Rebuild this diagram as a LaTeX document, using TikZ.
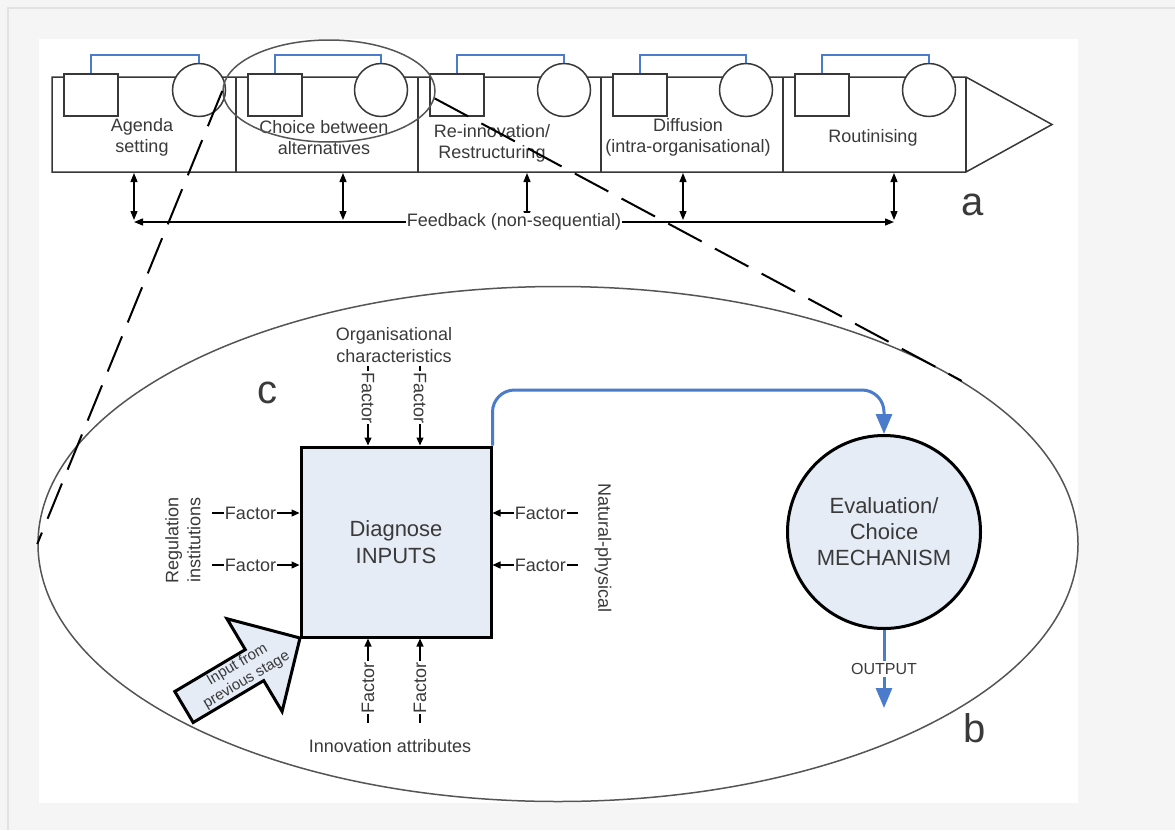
\documentclass[tikz,border=0pt]{standalone}
\usepackage{fontspec}
\setmainfont{Liberation Sans}
\usetikzlibrary{arrows.meta,shapes.geometric,calc}
\definecolor{bgc}{HTML}{F5F5F5}
\definecolor{framec}{HTML}{E2E2E2}
\definecolor{txt}{HTML}{3A3A3A}
\definecolor{linec}{HTML}{383838}
\definecolor{bluec}{HTML}{4A7CCB}
\definecolor{fillb}{HTML}{E5ECF6}
\definecolor{ellc}{HTML}{555555}
\begin{document}
\begin{tikzpicture}[x=1pt,y=-1pt,
  every node/.style={text=txt},
  strip/.style={draw=linec,line width=1.5pt},
  sqbox/.style={draw=linec,line width=1.5pt,fill=white,minimum width=54pt,minimum height=42pt,inner sep=0pt},
  cibox/.style={draw=linec,line width=1.5pt,fill=white,circle,minimum size=53pt,inner sep=0pt},
  bracket/.style={draw=bluec,line width=1.5pt},
  sectxt/.style={font=\fontsize{18}{21}\selectfont,align=center,inner sep=0pt},
  fbarr/.style={draw=black,line width=1.3pt,{Triangle[length=9pt,width=7pt]}-{Triangle[length=9pt,width=7pt]}},
  dashln/.style={draw=black,line width=2pt,dash pattern=on 38pt off 15pt},
  zoomell/.style={draw=ellc,line width=1.5pt,ellipse,minimum width=212pt,minimum height=102pt,inner sep=0pt},
  bigell/.style={draw=ellc,line width=1.5pt,ellipse,minimum width=1040pt,minimum height=515pt,inner sep=0pt},
  inbox/.style={draw=black,line width=3pt,fill=fillb,minimum size=190pt,inner sep=0pt,align=center,font=\fontsize{22}{27}\selectfont},
  evcirc/.style={draw=black,line width=3pt,fill=fillb,circle,minimum size=193pt,inner sep=0pt,align=center,font=\fontsize{22}{26}\selectfont},
  bluearr/.style={draw=bluec,line width=3pt,-{Triangle[length=20pt,width=16pt]}},
  factarr/.style={draw=black,line width=1.2pt,-{Triangle[length=8pt,width=7pt]}},
  factlbl/.style={fill=white,inner sep=1pt,font=\fontsize{18}{20}\selectfont},
  lbl/.style={font=\fontsize{18}{22}\selectfont,align=center,inner sep=0pt},
  biglbl/.style={font=\fontsize{40}{40}\selectfont,inner sep=0pt},
  fatarr/.style={draw=black,line width=3pt,fill=fillb,line join=miter}
]
\useasboundingbox (0,0) rectangle (1175,830);
\fill[bgc] (0,0) rectangle (1175,830);
\draw[framec,line width=1.5pt] (8,830) -- (8,8) -- (1175,8);
\fill[white] (39,39) rectangle (1078,803);

% ---------- strip (a)
\draw[strip] (52,77) -- (966,77) -- (1052,124.5) -- (966,172) -- (52,172) -- cycle;
\foreach \d in {236,418,601,783,966} \draw[strip] (\d,77) -- (\d,172);
\coordinate (brk) at (0,55);
\foreach \i/\L/\R in {1/52/236,2/236/418,3/418/601,4/601/783,5/783/966}{
  \node[sqbox] (sq\i) at (\L+39,95) {};
  \node[cibox] (ci\i) at (\R-37,90) {};
  \draw[bracket] (sq\i.north) -- (sq\i.north |- brk) -- (ci\i.north |- brk) -- (ci\i.north);
}
\node[sectxt] (t1) at (142,137.5) {Agenda\\setting};
\node[sectxt] (t2) at (324,138) {Choice between\\alternatives};
\node[sectxt] (t3) at (492,143.5) {Re-innovation/\\Restructuring};
\node[sectxt] (t4) at (688,137.5) {Diffusion\\(intra-organisational)};
\node[sectxt] (t5) at (873,138) {Routinising};

% feedback
\foreach \i/\x in {1/134,2/343,3/527,4/683,5/894}{
  \coordinate (fa\i) at (\x,173);
  \coordinate (fb\i) at (\x,220);
  \draw[fbarr] (fa\i) -- (fb\i);
}
\coordinate (fbL) at (134,222);
\coordinate (fbR) at (894,222);
\draw[fbarr] (fbL) -- (fbR) node[midway,fill=white,inner sep=1pt,font=\fontsize{18}{20}\selectfont] (fbt) {Feedback (non-sequential)};
\node[biglbl] (la) at (973,205) {a};

% ellipses
\node[zoomell] (zoom) at (329,91) {};
\node[bigell] (big) at (558,544) {};
\draw[dashln] (zoom.west) -- (big.west);
\draw[dashln] (zoom.-4) -- (big.22);

% ---------- detail (b, c)
\node[inbox] (diag) at (396,542) {Diagnose\\INPUTS};
\node[evcirc] (eval) at (884,532) {Evaluation/\\Choice\\MECHANISM};
\coordinate (btop) at (0,390);
\draw[bluearr,rounded corners=22pt] (diag.north east) -- (diag.north east |- btop) -- (eval.north |- btop) -- (eval.north);
\coordinate (outend) at (884,708);
\draw[bluearr] (eval.south) -- (outend) node[midway,fill=white,inner sep=2pt,font=\fontsize{16}{18}\selectfont] (outl) {OUTPUT};

% factors
\foreach \i/\x in {1/368,2/420}{
  \coordinate (ft\i) at (\x,366);
  \draw[factarr] (ft\i) -- (ft\i |- diag.north) node[pos=0.4,factlbl,rotate=-90] {Factor};
  \coordinate (fd\i) at (\x,723);
  \draw[factarr] (fd\i) -- (fd\i |- diag.south) node[pos=0.42,factlbl,rotate=90] {Factor};
}
\foreach \i/\y in {1/513,2/565}{
  \coordinate (fl\i) at (212,\y);
  \draw[factarr] (fl\i) -- (fl\i -| diag.west) node[pos=0.44,factlbl] {Factor};
  \coordinate (fr\i) at (578,\y);
  \draw[factarr] (fr\i) -- (fr\i -| diag.east) node[pos=0.44,factlbl] {Factor};
}
\node[lbl] (org) at (394,345) {Organisational\\characteristics};
\node[lbl,rotate=90] (reg) at (183,540) {Regulation\\institutions};
\node[lbl,rotate=-90] (nat) at (603,548) {Natural-physical};
\node[lbl] (inn) at (390,746) {Innovation attributes};
\node[biglbl] (lc) at (267,393) {c};
\node[biglbl] (lb) at (975,728) {b};

% input arrow
\draw[fatarr] (300,638) -- (282.1,711.5) -- (263.7,680.6) -- (193.2,722.5) -- (174.8,691.5) -- (245.3,649.6) -- (226.9,618.7) -- cycle;
\node[rotate=30.7,align=center,inner sep=0pt,font=\fontsize{15}{18}\selectfont] (inp) at (242,672.5) {Input from\\previous stage};
\end{tikzpicture}
\end{document}
